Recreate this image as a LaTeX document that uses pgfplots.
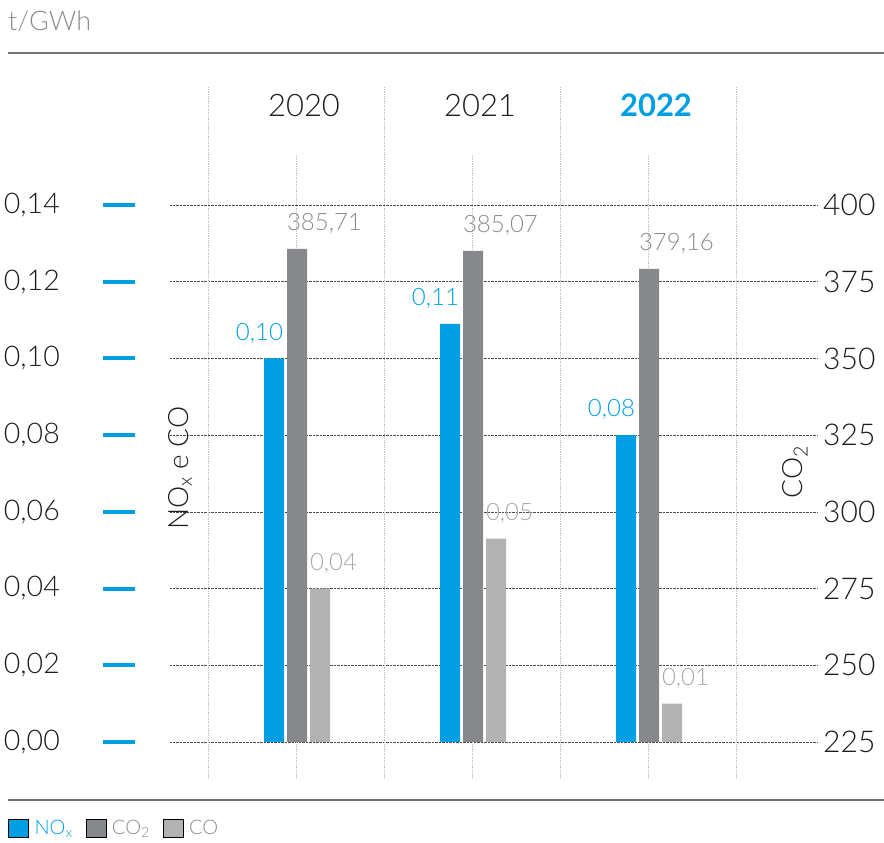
\documentclass[border=0pt]{standalone}
\usepackage{pgfplots}
\pgfplotsset{compat=1.18}
\usepackage{fontspec}
\IfFontExistsTF{Lato Light}{\setmainfont{Lato Light}}{\setmainfont{Lato}}
\newfontfamily\latoreg{Lato}
\definecolor{nblue}{HTML}{009FE3}
\definecolor{dgray}{HTML}{87888C}
\definecolor{lgray}{HTML}{B2B2B2}
\definecolor{lblgray}{HTML}{8C8C8C}
\definecolor{lbllgray}{HTML}{A9A9A9}
\definecolor{txt}{HTML}{1D1D1B}
\newcommand{\fs}[1]{\fontsize{#1}{#1}\selectfont}
\begin{document}
\begin{tikzpicture}[x=1pt,y=1pt]
\useasboundingbox (0,0) rectangle (884,843);
\node[anchor=base west, inner sep=0pt, font=\fs{27}, text=black!45] at (8,812) {t/GWh};
\draw[black!55, line width=1.4pt] (8,790) -- (884,790);
\draw[black!55, line width=1.4pt] (8,43) -- (884,43);

\begin{axis}[
  at={(170pt,101pt)}, anchor=south west, scale only axis, width=648pt, height=537pt,
  xmin=-0.71591, xmax=2.96591, ymin=0, ymax=0.14,
  clip=false,
  axis line style={draw=none}, major tick length=0pt,
  xtick={0,1,2}, xticklabels={2020,2021,{\latoreg\bfseries\color{nblue}2022}},
  xticklabel pos=upper,
  xticklabel style={anchor=base, inner sep=0pt, yshift=88pt, xshift=8pt, font=\fs{31}, text=txt},
  ytick={0,0.02,0.04,0.06,0.08,0.10,0.12,0.14},
  /pgf/number format/use comma, /pgf/number format/fixed, /pgf/number format/fixed zerofill, /pgf/number format/precision=2, /pgf/number format/assume math mode=true,
  yticklabel style={anchor=east, inner sep=0pt, xshift=-110pt, font=\fs{28.5}, text=txt},
  ymajorgrids, grid style={densely dotted, black!70, line width=0.7pt},
  ylabel={NO\textsubscript{x} e CO},
  ylabel style={at={(rel axis cs:0.0154,0.51)}, anchor=center, font=\fs{28}, text=txt},
  legend image code/.code={\fill[#1] (0pt,-9pt) rectangle (20pt,9pt);},
  legend columns=-1,
  legend style={at={(rel axis cs:-0.25,-0.160)}, anchor=west, draw=none, fill=none, inner sep=0pt,
    font=\fs{20}, nodes={inner sep=0pt},
    /tikz/every odd column/.append style={column sep=6pt},
    /tikz/every even column/.append style={column sep=13pt}},
]
\foreach \xx in {-0.5,0.5,1.5,2.5}{
  \edef\tmp{\noexpand\draw[densely dotted, black!25, line width=0.8pt] (axis cs:\xx,-0.00965) -- (axis cs:\xx,0.17076);}\tmp
}
\foreach \xx in {0,1,2}{
  \edef\tmp{\noexpand\draw[densely dotted, black!25, line width=0.8pt] (axis cs:\xx,-0.00965) -- (axis cs:\xx,0.15304);}\tmp
}
\pgfplotsinvokeforeach{0,0.02,0.04,0.06,0.08,0.10,0.12,0.14}{
  \draw[nblue, line width=4pt] (axis cs:-1.0966,#1) -- (axis cs:-0.9148,#1);
}
\addplot[ybar, bar width=20pt, bar shift=-22pt, fill=nblue, draw=none, forget plot,
  nodes near coords={\llap{\pgfplotspointmeta}}, point meta=explicit symbolic,
  every node near coord/.append style={inner sep=0pt, xshift=-13pt, yshift=15pt, font=\fs{24}, text=nblue}]
  coordinates {(0,0.100) [0,10] (1,0.109) [0,11] (2,0.080) [0,08]};
\addplot[ybar, bar width=20pt, bar shift=24pt, fill=lgray, draw=none, forget plot,
  nodes near coords={\rlap{\pgfplotspointmeta}}, point meta=explicit symbolic,
  every node near coord/.append style={inner sep=0pt, xshift=14pt, yshift=15pt, font=\fs{24}, text=lbllgray}]
  coordinates {(0,0.040) [0,04] (1,0.053) [0,05] (2,0.010) [0,01]};
\addlegendimage{fill=nblue}
\addlegendentry{\textcolor{nblue}{NO\textsubscript{x}}}
\addlegendimage{fill=dgray}
\addlegendentry{\textcolor{lblgray}{CO\textsubscript{2}}}
\addlegendimage{fill=lgray}
\addlegendentry{\textcolor{lblgray}{CO}}
\end{axis}

\begin{axis}[
  at={(170pt,101pt)}, anchor=south west, scale only axis, width=648pt, height=537pt,
  xmin=-0.71591, xmax=2.96591, ymin=225, ymax=400,
  axis line style={draw=none}, major tick length=0pt,
  xtick=\empty,
  ytick={225,250,275,300,325,350,375,400},
  yticklabel pos=right,
  /pgf/number format/assume math mode=true,
  yticklabel style={anchor=west, inner sep=0pt, xshift=5pt, font=\fs{30}, text=txt},
  ylabel={CO\textsubscript{2}},
  ylabel style={at={(rel axis cs:0.9645,0.503)}, anchor=center, font=\fs{28}, text=txt},
]
\addplot[ybar, bar width=20pt, bar shift=1pt, fill=dgray, draw=none,
  nodes near coords={\rlap{\pgfplotspointmeta}}, point meta=explicit symbolic,
  every node near coord/.append style={inner sep=0pt, xshift=-9pt, yshift=15pt, font=\fs{24}, text=lblgray}]
  coordinates {(0,385.71) [385,71] (1,385.07) [385,07] (2,379.16) [379,16]};
\end{axis}
\end{tikzpicture}
\end{document}
